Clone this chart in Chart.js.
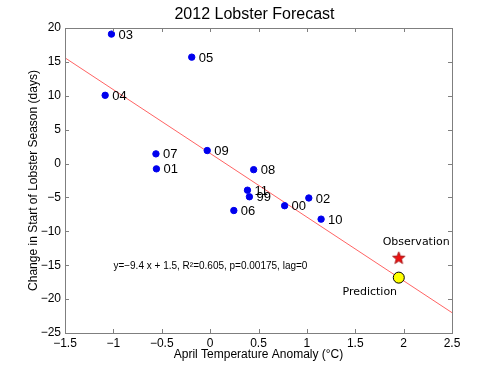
<!DOCTYPE html>
<html>
<head>
<meta charset="utf-8">
<script src="https://cdn.jsdelivr.net/npm/chart.js@4.4.1/dist/chart.umd.min.js"></script>
<style>
  html, body { margin: 0; padding: 0; background: #fff; }
  #wrap { width: 500px; height: 375px; }
</style>
</head>
<body>
<div id="wrap"><canvas id="c"></canvas></div>
<script>
// years (labels) with april temperature anomaly and change in season start
var years = ["03", "05", "04", "07", "01", "09", "08", "11", "99", "06", "00", "02", "10"];
var tempAnom = [-1.02, -0.19, -1.085, -0.56, -0.555, -0.03, 0.45, 0.386, 0.406, 0.245, 0.77, 1.02, 1.147];
var seasonChange = [19.1, 15.7, 10.07, 1.43, -0.78, 1.92, -0.9, -3.93, -4.9, -6.93, -6.22, -5.08, -8.2];

// regression line end points
var fitX = [-1.5, 2.5];
var fitY = [15.6, -22.0];

// 2012 observation and prediction
var obsX = [1.95], obsY = [-13.97];
var predX = [1.95], predY = [-16.83];

var eqText = "y=\u22129.4 x + 1.5, R\u00b2=0.605, p=0.00175, lag=0";

function toPts(xs, ys) {
    return xs.map(function (x, i) { return { x: x, y: ys[i] }; });
}

// filled 5 point star for the observation marker
function makeStar(r, fill, stroke) {
    var cv = document.createElement("canvas");
    var s = Math.ceil(r * 2 + 2);
    cv.width = s; cv.height = s;
    var g = cv.getContext("2d");
    var cx = s / 2, cy = s / 2;
    g.beginPath();
    for (var i = 0; i < 10; i++) {
        var rr = i % 2 === 0 ? r : r * 0.42;
        var a = -Math.PI / 2 + i * Math.PI / 5;
        var px = cx + rr * Math.cos(a), py = cy + rr * Math.sin(a);
        if (i === 0) g.moveTo(px, py); else g.lineTo(px, py);
    }
    g.closePath();
    g.fillStyle = fill;
    g.fill();
    g.lineWidth = 0.8;
    g.strokeStyle = stroke;
    g.stroke();
    return cv;
}

function fmt(v) {
    return (Math.round(v * 10) / 10).toString().replace("-", "\u2212");
}

var boxPlugin = {
    id: "matlabBox",
    afterDraw: function (chart) {
        var ctx = chart.ctx, a = chart.chartArea;
        var xs = chart.scales.x, ys = chart.scales.y;
        ctx.save();
        ctx.strokeStyle = "#7f7f7f";
        ctx.lineWidth = 1;
        ctx.strokeRect(a.left + 0.5, a.top + 0.5, a.right - a.left, a.bottom - a.top);
        ctx.beginPath();
        xs.ticks.forEach(function (t) {
            var px = Math.round(xs.getPixelForValue(t.value)) + 0.5;
            ctx.moveTo(px, a.bottom); ctx.lineTo(px, a.bottom - 4);
            ctx.moveTo(px, a.top); ctx.lineTo(px, a.top + 4);
        });
        ys.ticks.forEach(function (t) {
            var py = Math.round(ys.getPixelForValue(t.value)) + 0.5;
            ctx.moveTo(a.left, py); ctx.lineTo(a.left + 4, py);
            ctx.moveTo(a.right, py); ctx.lineTo(a.right - 4, py);
        });
        ctx.stroke();

        // title
        ctx.fillStyle = "#000";
        ctx.font = "16px 'Liberation Sans', Arial, sans-serif";
        ctx.textAlign = "center";
        ctx.textBaseline = "middle";
        ctx.fillText("2012 Lobster Forecast", (a.left + a.right) / 2 - 4, 15);

        // year labels
        ctx.font = "13px 'Liberation Sans', Arial, sans-serif";
        ctx.textAlign = "left";
        years.forEach(function (yr, i) {
            var px = xs.getPixelForValue(tempAnom[i]);
            var py = ys.getPixelForValue(seasonChange[i]);
            ctx.fillText(yr, px + 7, py + 1);
        });

        // regression text
        ctx.font = "10px 'Liberation Sans', Arial, sans-serif";
        ctx.fillText(eqText, xs.getPixelForValue(-1.0), ys.getPixelForValue(-15.2));

        // observation / prediction labels
        ctx.font = "11px 'DejaVu Sans', sans-serif";
        ctx.textAlign = "center";
        ctx.fillText("Observation", xs.getPixelForValue(2.13), ys.getPixelForValue(-11.6));
        ctx.fillText("Prediction", xs.getPixelForValue(1.65), ys.getPixelForValue(-18.9));
        ctx.restore();
    }
};

var tickFont = { family: "'Liberation Sans', Arial, sans-serif", size: 12 };

new Chart(document.getElementById("c"), {
    type: "scatter",
    data: {
        datasets: [
            {
                type: "line",
                data: toPts(fitX, fitY),
                borderColor: "rgba(255,60,60,0.8)",
                borderWidth: 1,
                pointRadius: 0,
                fill: false,
                order: 3
            },
            {
                data: toPts(tempAnom, seasonChange),
                backgroundColor: "#0000ee",
                borderColor: "#0000ee",
                pointRadius: 3.2,
                order: 1
            },
            {
                data: toPts(obsX, obsY),
                pointStyle: makeStar(6.5, "#ee1111", "#990000"),
                order: 0
            },
            {
                data: toPts(predX, predY),
                backgroundColor: "#ffff00",
                borderColor: "#000",
                borderWidth: 1,
                pointRadius: 5.5,
                order: 0
            }
        ]
    },
    options: {
        responsive: true,
        maintainAspectRatio: false,
        animation: false,
        layout: { padding: { left: 0, right: 48, top: 28, bottom: 0 } },
        plugins: { legend: { display: false }, tooltip: { enabled: false } },
        scales: {
            x: {
                type: "linear",
                min: -1.5,
                max: 2.5,
                ticks: { stepSize: 0.5, color: "#000", font: tickFont, padding: 3, maxRotation: 0, callback: fmt },
                grid: { display: false, drawTicks: false },
                border: { display: false },
                title: {
                    display: true,
                    text: "April Temperature Anomaly (\u00b0C)",
                    color: "#000",
                    font: tickFont,
                    padding: { top: 0, bottom: 13 }
                },
                afterFit: function (s) { s.height = 42; }
            },
            y: {
                min: -25,
                max: 20,
                ticks: { stepSize: 5, color: "#000", font: tickFont, padding: 4, callback: fmt },
                grid: { display: false, drawTicks: false },
                border: { display: false },
                title: {
                    display: true,
                    text: "Change in Start of Lobster Season (days)",
                    color: "#000",
                    font: tickFont,
                    padding: { top: 26, bottom: 0 }
                },
                afterFit: function (s) { s.width = 65; }
            }
        }
    },
    plugins: [boxPlugin]
});
</script>
</body>
</html>
